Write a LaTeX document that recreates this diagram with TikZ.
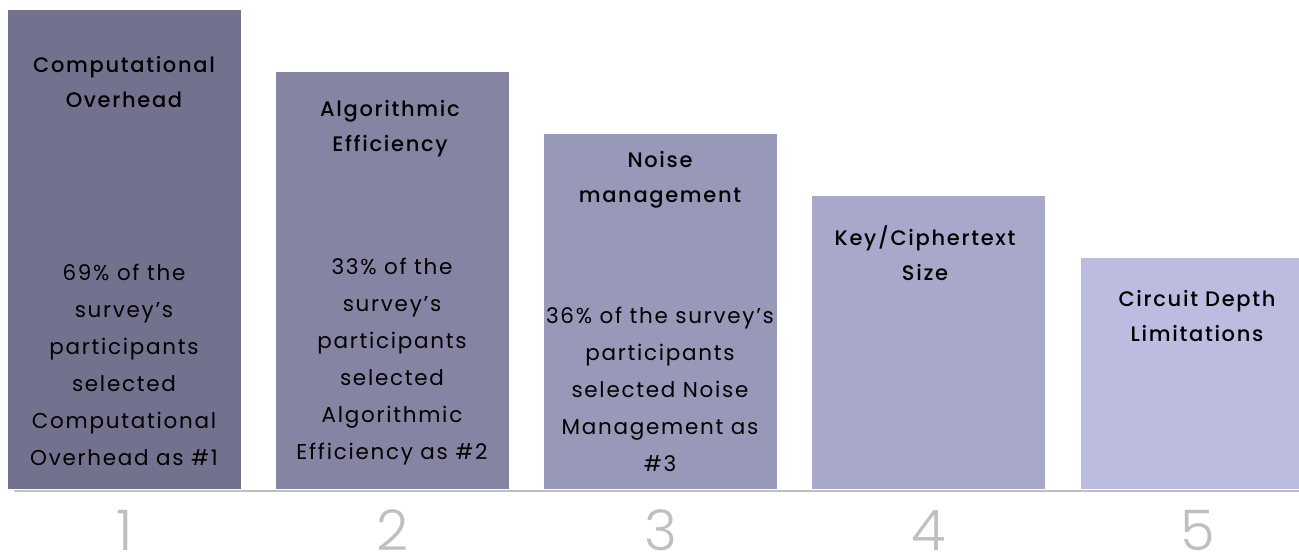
\documentclass[tikz,border=0pt]{standalone}
\usepackage{fontspec}
\setmainfont{Poppins}[LetterSpace=8]
\newfontfamily\medio{Poppins Medium}[LetterSpace=8]
\newfontfamily\leggero{Poppins Light}
\definecolor{barra1}{HTML}{72728F}
\definecolor{barra2}{HTML}{8585A3}
\definecolor{barra3}{HTML}{9899B8}
\definecolor{barra4}{HTML}{A8A9CA}
\definecolor{barra5}{HTML}{BBBCDF}
\definecolor{grigio}{HTML}{BFBFBF}
\begin{document}
\begin{tikzpicture}[x=1pt,y=-1pt,
    titolo/.style={font=\medio\fontsize{21}{35}\selectfont, align=center},
    testo/.style={font=\fontsize{21.5}{37}\selectfont, align=center},
    numero/.style={font=\leggero\fontsize{56}{56}\selectfont, text=grigio, anchor=base, inner sep=0pt, outer sep=0pt}]
			\clip (0,0) rectangle (1299,553);
			% Barre con numeri
			\foreach \i/\xa/\ya in {1/8/10, 2/276/72, 3/544/134, 4/812/196, 5/1081/258} {
				\fill[barra\i] (\xa,\ya) rectangle (\xa+233,489);
				\node[numero] (num\i) at (\xa+116.5,550) {\i};
			}
			% Linea di base
			\draw[grigio, line width=2pt] (14,490.5) -- (1299,490.5);
			
			% Titoli
			\node[titolo] (tit1) at (124,82) {Computational\\Overhead};
			\node[titolo] (tit2) at (390,128.5) {Algorithmic\\Efficiency};
			\node[titolo] (tit3) at (660,180) {Noise\\management};
			\node[titolo] (tit4) at (925,253.5) {Key/Ciphertext\\Size};
			\node[titolo] (tit5) at (1197,316.5) {Circuit Depth\\Limitations};
			
			% Testi
			\node[testo] (txt1) at (124,364.5) {69\% of the\\survey's\\participants\\selected\\Computational\\Overhead as \#1};
			\node[testo] (txt2) at (392,361.5) {33\% of the\\survey's\\participants\\selected\\Algorithmic\\Efficiency as \#2};
			\node[testo] (txt3) at (660,389.5) {36\% of the survey's\\participants\\selected Noise\\Management as\\\#3};
		\end{tikzpicture}
\end{document}
